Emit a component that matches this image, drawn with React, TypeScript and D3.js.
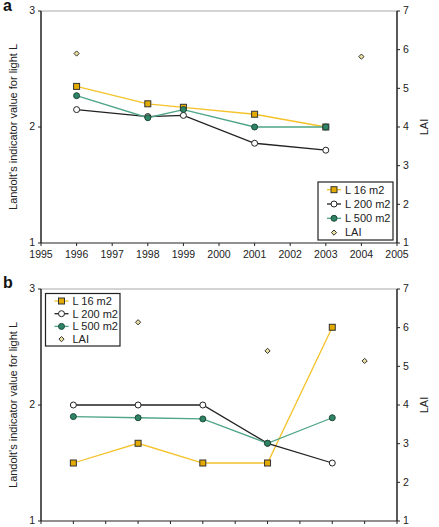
import React from "react";
import * as d3 from "d3";

// ---------- Data ----------
const yearsA = [1996, 1998, 1999, 2001, 2003];
const l16A = [2.35, 2.2, 2.17, 2.11, 2.0];
const l200A = [2.15, 2.09, 2.1, 1.86, 1.8];
const l500A = [2.27, 2.08, 2.15, 2.0, 2.0];
const laiYearsA = [1996, 2004];
const laiA = [5.9, 5.82];
const xTicksA = [1995, 1996, 1997, 1998, 1999, 2000, 2001, 2002, 2003, 2004, 2005];

const posB = [1, 3, 5, 7, 9];
const l16B = [1.5, 1.67, 1.5, 1.5, 2.67];
const l200B = [2.0, 2.0, 2.0, 1.67, 1.5];
const l500B = [1.9, 1.89, 1.88, 1.67, 1.89];
const laiPosB = [3, 7, 10];
const laiB = [6.14, 5.4, 5.14];
const xTicksB = [0, 1, 2, 3, 4, 5, 6, 7, 8, 9, 10, 11];

const leftTicks = [1, 2, 3];
const rightTicks = [1, 2, 3, 4, 5, 6, 7];
const seriesNames = ["L 16 m2", "L 200 m2", "L 500 m2", "LAI"];

// ---------- Styles ----------
const FONT = "'Liberation Sans', Arial, Helvetica, sans-serif";
const YEL_LINE = "#f5c22a";
const YEL_FILL = "#e3aa00";
const GRN_LINE = "#4fa585";
const GRN_FILL = "#2f8466";
const BLK = "#222";

type PanelProps = {
  top: number;
  bottom: number;
  xDomain: [number, number];
  xTicks: number[];
  showXLabels: boolean;
  xs: number[];
  l16: number[];
  l200: number[];
  l500: number[];
  laiX: number[];
  lai: number[];
  legend: { x: number; y: number; w: number; h: number; first: number; step: number; sx: number };
  letter: string;
  letterY: number;
};

function Marker({ kind, x, y }: { kind: number; x: number; y: number }) {
  if (kind === 0)
    return <rect x={x - 3} y={y - 3} width={6} height={6} fill={YEL_FILL} stroke="#333" strokeWidth={1} />;
  if (kind === 1) return <circle cx={x} cy={y} r={3} fill="#fff" stroke={BLK} strokeWidth={1} />;
  if (kind === 2) return <circle cx={x} cy={y} r={3} fill={GRN_FILL} stroke="#1e4a3a" strokeWidth={1} />;
  return (
    <path
      d={`M${x},${y - 2.6}L${x + 2.6},${y}L${x},${y + 2.6}L${x - 2.6},${y}Z`}
      fill="#ebe0a0"
      stroke="#333"
      strokeWidth={1}
    />
  );
}

function Panel(p: PanelProps) {
  const left = 41;
  const right = 397;
  const x = d3.scaleLinear().domain(p.xDomain).range([left, right]);
  const yL = d3.scaleLinear().domain([1, 3]).range([p.bottom, p.top]);
  const yR = d3.scaleLinear().domain([1, 7]).range([p.bottom, p.top]);
  const line = d3
    .line<[number, number]>()
    .x((d) => x(d[0]))
    .y((d) => yL(d[1]));
  const series = [
    { vals: p.l16, color: YEL_LINE },
    { vals: p.l200, color: BLK },
    { vals: p.l500, color: GRN_LINE },
  ];
  const lineColors = [YEL_LINE, BLK, GRN_LINE];
  const midY = (p.top + p.bottom) / 2;
  return (
    <g fontFamily={FONT}>
      <text x={3} y={p.letterY} fontSize={16} fontWeight="bold" fill="#111">
        {p.letter}
      </text>
      {/* frame */}
      <line x1={left} x2={right} y1={p.top} y2={p.top} stroke="#a8a8a8" strokeWidth={1} />
      <line x1={left} x2={right} y1={p.bottom} y2={p.bottom} stroke={BLK} strokeWidth={1.2} />
      <line x1={left} x2={left} y1={p.top} y2={p.bottom} stroke={BLK} strokeWidth={1.5} />
      <line x1={right} x2={right} y1={p.top} y2={p.bottom} stroke={BLK} strokeWidth={1.5} />
      {/* left ticks */}
      {leftTicks.map((t) => (
        <g key={"l" + t}>
          <line x1={left - 3} x2={left} y1={yL(t)} y2={yL(t)} stroke={BLK} />
          <text x={left - 6} y={yL(t)} dy="0.33em" textAnchor="end" fontSize={10.5} fill="#222">
            {t}
          </text>
        </g>
      ))}
      {/* right ticks */}
      {rightTicks.map((t) => (
        <g key={"r" + t}>
          <line x1={right} x2={right + 3} y1={yR(t)} y2={yR(t)} stroke={BLK} />
          <text x={right + 6} y={yR(t)} dy="0.33em" textAnchor="start" fontSize={10.5} fill="#222">
            {t}
          </text>
        </g>
      ))}
      {/* x ticks */}
      {p.xTicks.map((t) => (
        <g key={"x" + t}>
          <line x1={x(t)} x2={x(t)} y1={p.bottom} y2={p.bottom + 3} stroke={BLK} />
          {p.showXLabels && (
            <text x={x(t)} y={p.bottom + 15} textAnchor="middle" fontSize={10.5} fill="#222">
              {t}
            </text>
          )}
        </g>
      ))}
      {/* axis titles */}
      <text
        transform={`translate(17,${midY}) rotate(-90)`}
        textAnchor="middle"
        fontSize={11}
        fill="#222"
      >
        Landolt's indicator value for light L
      </text>
      <text transform={`translate(428,${midY}) rotate(-90)`} textAnchor="middle" fontSize={11} fill="#222">
        LAI
      </text>
      {/* lines */}
      {series.map((s, i) => (
        <path
          key={"s" + i}
          d={line(p.xs.map((v, j) => [v, s.vals[j]] as [number, number])) || ""}
          fill="none"
          stroke={s.color}
          strokeWidth={1.3}
        />
      ))}
      {/* markers */}
      {series.map((s, i) =>
        p.xs.map((v, j) => <Marker key={`m${i}-${j}`} kind={i} x={x(v)} y={yL(s.vals[j])} />)
      )}
      {p.laiX.map((v, j) => (
        <Marker key={"lai" + j} kind={3} x={x(v)} y={yR(p.lai[j])} />
      ))}
      {/* legend */}
      <rect
        x={p.legend.x}
        y={p.legend.y}
        width={p.legend.w}
        height={p.legend.h}
        fill="#fff"
        stroke="#222"
        strokeWidth={1.2}
      />
      {seriesNames.map((n, i) => {
        const ly = p.legend.y + p.legend.first + i * p.legend.step;
        const sx = p.legend.x + p.legend.sx;
        return (
          <g key={"lg" + i}>
            {i < 3 && <line x1={sx - 7} x2={sx + 7} y1={ly} y2={ly} stroke={lineColors[i]} strokeWidth={1.3} />}
            <Marker kind={i} x={sx} y={ly} />
            <text x={sx + 11} y={ly} dy="0.35em" fontSize={11} fill="#222">
              {n}
            </text>
          </g>
        );
      })}
    </g>
  );
}

export default function App() {
  return (
    <svg width={439} height={527} style={{ position: "absolute", left: 0, top: 0, background: "#fff" }}>
      <rect width={439} height={527} fill="#fff" />
      <Panel
        top={11}
        bottom={243}
        xDomain={[1995, 2005]}
        xTicks={xTicksA}
        showXLabels={true}
        xs={yearsA}
        l16={l16A}
        l200={l200A}
        l500={l500A}
        laiX={laiYearsA}
        lai={laiA}
        legend={{ x: 318, y: 182, w: 75, h: 58, first: 7.7, step: 14.3, sx: 16 }}
        letter="a"
        letterY={11}
      />
      <Panel
        top={289}
        bottom={521}
        xDomain={[0, 11]}
        xTicks={xTicksB}
        showXLabels={false}
        xs={posB}
        l16={l16B}
        l200={l200B}
        l500={l500B}
        laiX={laiPosB}
        lai={laiB}
        legend={{ x: 45.5, y: 293.5, w: 74.5, h: 52.5, first: 7.5, step: 12.7, sx: 16 }}
        letter="b"
        letterY={288}
      />
    </svg>
  );
}
